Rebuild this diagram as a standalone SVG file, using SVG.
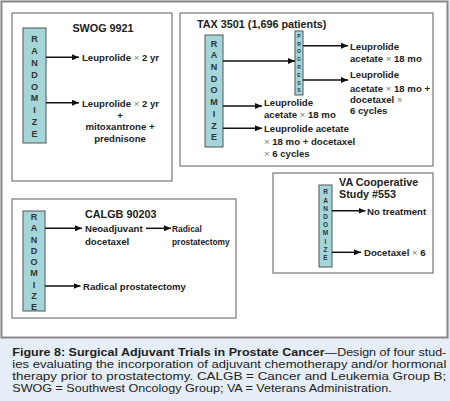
<svg xmlns="http://www.w3.org/2000/svg" width="450" height="401" viewBox="0 0 450 401">
<defs>
<marker id="ah" markerUnits="userSpaceOnUse" markerWidth="8" markerHeight="6" refX="7" refY="3" orient="auto">
<path d="M0,0 L7,3 L0,6 z" fill="#111"/>
</marker>
<style>
.frame{fill:#fff;stroke:#888;stroke-width:2}
.box{fill:#fff;stroke:#777;stroke-width:1.2}
.rnd{fill:#a4d5d8;stroke:#555;stroke-width:1}
.rl{font-family:"Liberation Sans",Arial,sans-serif;font-weight:bold;font-size:9px;fill:#333;text-anchor:middle}
.t{font-family:"Liberation Sans",Arial,sans-serif;font-weight:bold;font-size:10.8px;fill:#222}
.l{font-family:"Liberation Sans",Arial,sans-serif;font-weight:bold;font-size:9.6px;fill:#222}
.s{font-family:"Liberation Sans",Arial,sans-serif;font-weight:bold;font-size:8.4px;fill:#222}
.x{font-weight:normal;fill:#777}
.cap{font-family:"Liberation Sans",Arial,sans-serif;font-size:10.5px;fill:#222}
.c line{stroke:#111;stroke-width:1.5;marker-end:url(#ah)}
</style>
</defs>
<rect x="0" y="0" width="450" height="401" fill="#e5eef6"/>
<rect class="frame" x="1.5" y="1.5" width="446" height="336"/>

<g id="swog">
<rect class="box" x="12" y="13" width="160" height="168"/>
<text class="t" x="103" y="32" text-anchor="middle">SWOG 9921</text>
<g id="swog-rand">
<rect class="rnd" x="23" y="28" width="23" height="115"/>
<text class="rl" x="34.5" y="42.3">R</text>
<text class="rl" x="34.5" y="54.1">A</text>
<text class="rl" x="34.5" y="65.9">N</text>
<text class="rl" x="34.5" y="77.7">D</text>
<text class="rl" x="34.5" y="89.5">O</text>
<text class="rl" x="34.5" y="101.3">M</text>
<text class="rl" x="34.5" y="113.1">I</text>
<text class="rl" x="34.5" y="124.9">Z</text>
<text class="rl" x="34.5" y="136.7">E</text>
</g>
<g id="swog-a1"><text class="l" x="82" y="61">Leuprolide <tspan class="x">×</tspan> 2 yr</text></g>
<g id="swog-a2">
<text class="l" x="82" y="106.5">Leuprolide <tspan class="x">×</tspan> 2 yr</text>
<text class="l" x="120" y="119" text-anchor="middle">+</text>
<text class="l" x="120" y="130" text-anchor="middle">mitoxantrone +</text>
<text class="l" x="120" y="141.5" text-anchor="middle">prednisone</text>
</g>
</g>

<g id="tax">
<rect class="box" x="180" y="13" width="253" height="153"/>
<text class="t" x="197" y="28">TAX 3501 (1,696 patients)</text>
<g id="tax-rand">
<rect class="rnd" x="205" y="35" width="18" height="112"/>
<text class="rl" x="214" y="46.6">R</text>
<text class="rl" x="214" y="58.3">A</text>
<text class="rl" x="214" y="70">N</text>
<text class="rl" x="214" y="81.7">D</text>
<text class="rl" x="214" y="93.4">O</text>
<text class="rl" x="214" y="105.1">M</text>
<text class="rl" x="214" y="116.8">I</text>
<text class="rl" x="214" y="128.5">Z</text>
<text class="rl" x="214" y="140.2">E</text>
</g>
<g id="tax-progress">
<rect class="rnd" x="295" y="31" width="8" height="64"/>
<g style="font-family:'Liberation Sans',Arial,sans-serif;font-weight:bold;font-size:5px;fill:#333;text-anchor:middle">
<text x="299" y="37.8">P</text>
<text x="299" y="45.6">R</text>
<text x="299" y="53.4">O</text>
<text x="299" y="61.2">G</text>
<text x="299" y="69">R</text>
<text x="299" y="76.8">E</text>
<text x="299" y="84.6">S</text>
<text x="299" y="92.4">S</text>
</g>
</g>
<g id="tax-p1">
<text class="l" x="350" y="50">Leuprolide</text>
<text class="l" x="350" y="62">acetate <tspan class="x">×</tspan> 18 mo</text>
</g>
<g id="tax-p2">
<text class="l" x="350" y="78">Leuprolide</text>
<text class="l" x="350" y="91.5">acetate <tspan class="x">×</tspan> 18 mo +</text>
<text class="l" x="350" y="103">docetaxel <tspan class="x">×</tspan></text>
<text class="l" x="350" y="114">6 cycles</text>
</g>
<g id="tax-a2">
<text class="l" x="264" y="105.5">Leuprolide</text>
<text class="l" x="264" y="118">acetate <tspan class="x">×</tspan> 18 mo</text>
</g>
<g id="tax-a3">
<text class="l" x="264" y="132">Leuprolide acetate</text>
<text class="l" x="264" y="144.5"><tspan class="x">×</tspan> 18 mo + docetaxel</text>
<text class="l" x="264" y="157"><tspan class="x">×</tspan> 6 cycles</text>
</g>
</g>

<g id="calgb">
<rect class="box" x="12" y="199" width="224" height="119"/>
<text class="t" x="85" y="217.5">CALGB 90203</text>
<g id="calgb-rand">
<rect class="rnd" x="23" y="211" width="22" height="100"/>
<text class="rl" x="34" y="220">R</text>
<text class="rl" x="34" y="231.3">A</text>
<text class="rl" x="34" y="242.5">N</text>
<text class="rl" x="34" y="253.8">D</text>
<text class="rl" x="34" y="265">O</text>
<text class="rl" x="34" y="276.3">M</text>
<text class="rl" x="34" y="287.5">I</text>
<text class="rl" x="34" y="298.8">Z</text>
<text class="rl" x="34" y="310">E</text>
</g>
<g id="calgb-neo">
<text class="l" x="85" y="232">Neoadjuvant</text>
<text class="l" x="85" y="245">docetaxel</text>
</g>
<g id="calgb-rp1">
<text class="s" x="172" y="231.5">Radical</text>
<text class="s" x="172" y="245">prostatectomy</text>
</g>
<g id="calgb-rp2"><text class="l" x="83" y="290">Radical prostatectomy</text></g>
</g>

<g id="va">
<rect class="box" x="273" y="173" width="160" height="100"/>
<text class="t" x="339" y="185.5">VA Cooperative</text>
<text class="t" x="339" y="197.5">Study #553</text>
<g id="va-rand">
<rect class="rnd" x="319" y="185" width="13" height="82"/>
<g style="font-family:'Liberation Sans',Arial,sans-serif;font-weight:bold;font-size:6.5px;fill:#333;text-anchor:middle">
<text x="325.5" y="194.4">R</text>
<text x="325.5" y="202.6">A</text>
<text x="325.5" y="210.8">N</text>
<text x="325.5" y="219">D</text>
<text x="325.5" y="227.2">O</text>
<text x="325.5" y="235.4">M</text>
<text x="325.5" y="243.6">I</text>
<text x="325.5" y="251.8">Z</text>
<text x="325.5" y="260">E</text>
</g>
</g>
<g id="va-a1"><text class="l" x="367" y="214.5">No treatment</text></g>
<g id="va-a2"><text class="l" x="364" y="256">Docetaxel <tspan class="x">×</tspan> 6</text></g>
</g>

<g id="connectors" class="c">
<line x1="46" y1="57.3" x2="79" y2="57.3"/>
<line x1="46" y1="102.7" x2="79" y2="102.7"/>
<line x1="223" y1="61" x2="295" y2="61"/>
<line x1="223" y1="106" x2="262" y2="106"/>
<line x1="223" y1="128.3" x2="262" y2="128.3"/>
<line x1="303" y1="45.7" x2="348" y2="45.7"/>
<line x1="303" y1="80" x2="348" y2="80"/>
<line x1="45" y1="228.3" x2="82" y2="228.3"/>
<line x1="146" y1="228.3" x2="171" y2="228.3"/>
<line x1="45" y1="286" x2="80.5" y2="286"/>
<line x1="332" y1="210.8" x2="365.5" y2="210.8"/>
<line x1="332" y1="252.3" x2="361" y2="252.3"/>
</g>

<g id="caption">
<text class="cap" x="12.3" y="356" textLength="434" lengthAdjust="spacingAndGlyphs"><tspan font-weight="bold">Figure 8: Surgical Adjuvant Trials in Prostate Cancer</tspan>—Design of four stud-</text>
<text class="cap" x="12.3" y="367.9" textLength="434" lengthAdjust="spacingAndGlyphs">ies evaluating the incorporation of adjuvant chemotherapy and/or hormonal</text>
<text class="cap" x="12.3" y="379.8" textLength="434" lengthAdjust="spacingAndGlyphs">therapy prior to prostatectomy. CALGB = Cancer and Leukemia Group B;</text>
<text class="cap" x="12.3" y="391.7" textLength="379.5" lengthAdjust="spacingAndGlyphs">SWOG = Southwest Oncology Group; VA = Veterans Administration.</text>
</g>
</svg>
